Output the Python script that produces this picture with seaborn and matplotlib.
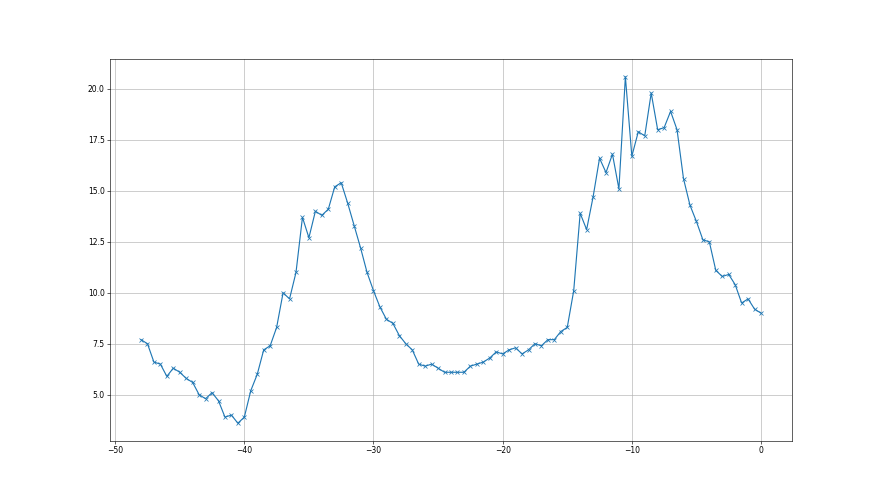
import numpy as np
import pandas as pd
import matplotlib
matplotlib.use("Agg")
import matplotlib.pyplot as plt
import seaborn as sns

x_values = [-48.0, -47.5, -47.0, -46.5, -46.0, -45.5, -45.0, -44.5, -44.0, -43.5,
            -43.0, -42.5, -42.0, -41.5, -41.0, -40.5, -40.0, -39.5, -39.0, -38.5,
            -38.0, -37.5, -37.0, -36.5, -36.0, -35.5, -35.0, -34.5, -34.0, -33.5,
            -33.0, -32.5, -32.0, -31.5, -31.0, -30.5, -30.0, -29.5, -29.0, -28.5,
            -28.0, -27.5, -27.0, -26.5, -26.0, -25.5, -25.0, -24.5, -24.0, -23.5,
            -23.0, -22.5, -22.0, -21.5, -21.0, -20.5, -20.0, -19.5, -19.0, -18.5,
            -18.0, -17.5, -17.0, -16.5, -16.0, -15.5, -15.0, -14.5, -14.0, -13.5,
            -13.0, -12.5, -12.0, -11.5, -11.0, -10.5, -10.0, -9.5, -9.0, -8.5,
            -8.0, -7.5, -7.0, -6.5, -6.0, -5.5, -5.0, -4.5, -4.0, -3.5,
            -3.0, -2.5, -2.0, -1.5, -1.0, -0.5, 0.0]

y_values = [7.7, 7.5, 6.6, 6.5, 5.9, 6.3, 6.1, 5.8, 5.6, 5.0,
            4.8, 5.1, 4.7, 3.9, 4.0, 3.6, 3.9, 5.2, 6.0, 7.2,
            7.4, 8.3, 10.0, 9.7, 11.0, 13.7, 12.7, 14.0, 13.8, 14.1,
            15.2, 15.4, 14.4, 13.3, 12.2, 11.0, 10.1, 9.3, 8.7, 8.5,
            7.9, 7.5, 7.2, 6.5, 6.4, 6.5, 6.3, 6.1, 6.1, 6.1,
            6.1, 6.4, 6.5, 6.6, 6.8, 7.1, 7.0, 7.2, 7.3, 7.0,
            7.2, 7.5, 7.4, 7.7, 7.7, 8.1, 8.3, 10.1, 13.9, 13.1,
            14.7, 16.6, 15.9, 16.8, 15.1, 20.6, 16.7, 17.9, 17.7, 19.8,
            18.0, 18.1, 18.9, 18.0, 15.6, 14.3, 13.5, 12.6, 12.5, 11.1,
            10.8, 10.9, 10.4, 9.5, 9.7, 9.2, 9.0]

df = pd.DataFrame({"x": x_values, "y": y_values})

fig, ax = plt.subplots(figsize=(16, 9), dpi=55)
sns.lineplot(data=df, x="x", y="y", ax=ax, color="#1f77b4", marker="x",
             markeredgecolor="#1f77b4", markeredgewidth=1.0, markersize=6,
             linewidth=1.5)
ax.grid(True, color="#b0b0b0", linewidth=0.8)
ax.set_xlabel("")
ax.set_ylabel("")
fig.savefig("out.png", dpi=55)
